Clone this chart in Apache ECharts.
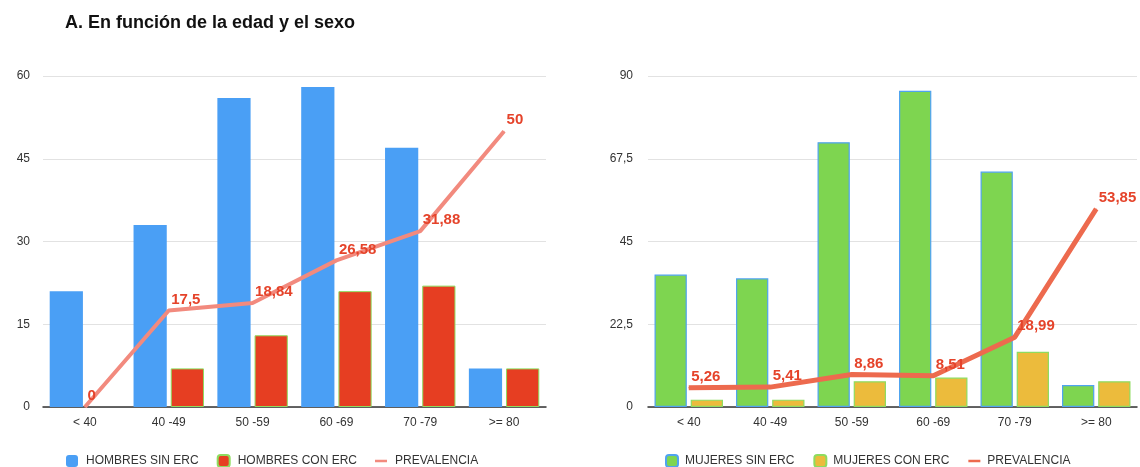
<!DOCTYPE html>
<html>
<head>
<meta charset="utf-8">
<script src="https://cdn.jsdelivr.net/npm/echarts@6/dist/echarts.min.js"></script>
<style>
  html, body { margin: 0; padding: 0; background: #fff; }
  #chart { width: 1140px; height: 467px; }
</style>
</head>
<body>
<div id="chart"></div>
<script>
// 数据
const categories = ['< 40', '40 -49', '50 -59', '60 -69', '70 -79', '>= 80'];
const hombresSinErc = [21, 33, 56, 58, 47, 7];
const hombresConErc = [0, 7, 13, 21, 22, 7];
const prevalenciaHombres = [0, 17.5, 18.84, 26.58, 31.88, 50];
const mujeresSinErc = [36, 35, 72, 86, 64, 6];
const mujeresConErc = [2, 2, 7, 8, 15, 7];
const prevalenciaMujeres = [5.26, 5.41, 8.86, 8.51, 18.99, 53.85];

const chart = echarts.init(document.getElementById('chart'));

const FONT = 'Liberation Sans, Arial, sans-serif';
const comma = v => String(v).replace('.', ',');
// 值为 0 的柱子不画（否则边框会在轴上留一条线）
const hideZero = arr => arr.map(v => (v === 0 ? '-' : v));
// 图例里的短线
const LINE_ICON = 'path://M0,0h12v2.5h-12z';

// 通用配置
const axisLabelStyle = { color: '#333', fontSize: 12, fontFamily: FONT };
const xAxisCommon = {
    type: 'category',
    data: categories,
    axisTick: { show: false },
    axisLine: { lineStyle: { color: '#333', width: 1.5 } },
    axisLabel: Object.assign({ margin: 10 }, axisLabelStyle)
};
const splitLine = { lineStyle: { color: '#e2e2e2', width: 1 } };

const lineLabel = {
    show: true,
    position: 'right',
    distance: 2,
    offset: [0, -11],
    color: '#e5432a',
    fontSize: 15,
    fontWeight: 'bold',
    fontFamily: FONT,
    formatter: p => comma(p.value)
};

const legendText = { color: '#333', fontSize: 12, fontFamily: FONT, padding: [0, 0, 0, 3] };

const option = {
    animation: false,
    title: {
        text: 'A. En función de la edad y el sexo',
        left: 60,
        top: 9,
        textStyle: { fontSize: 18, fontWeight: 'bold', color: '#111', fontFamily: FONT }
    },
    legend: [
        {
            left: 61, top: 449,
            itemWidth: 12, itemHeight: 12, itemGap: 18,
            textStyle: legendText,
            data: [
                'HOMBRES SIN ERC',
                'HOMBRES CON ERC',
                { name: 'PREVALENCIA', icon: LINE_ICON, itemStyle: { color: '#f28a7e', borderWidth: 0 } }
            ]
        },
        {
            left: 660, top: 449,
            itemWidth: 12, itemHeight: 12, itemGap: 19,
            textStyle: Object.assign({}, legendText, { padding: [0, 0, 0, 2] }),
            data: [
                'MUJERES SIN ERC',
                'MUJERES CON ERC',
                { name: 'PREVALENCIA', icon: LINE_ICON, itemStyle: { color: '#ed6a4e', borderWidth: 0 } }
            ]
        }
    ],
    grid: [
        { left: 43, right: 594, top: 76, bottom: 60 },
        { left: 648, right: 3, top: 76, bottom: 60 }
    ],
    xAxis: [
        Object.assign({ gridIndex: 0 }, xAxisCommon),
        Object.assign({ gridIndex: 1 }, xAxisCommon)
    ],
    yAxis: [
        {
            type: 'value', gridIndex: 0, min: 0, max: 60, interval: 15,
            axisLine: { show: false }, axisTick: { show: false },
            axisLabel: Object.assign({ margin: 13 }, axisLabelStyle),
            splitLine: splitLine
        },
        {
            type: 'value', gridIndex: 1, min: 0, max: 90, interval: 22.5,
            axisLine: { show: false }, axisTick: { show: false },
            axisLabel: Object.assign({ margin: 15, formatter: v => comma(v) }, axisLabelStyle),
            splitLine: splitLine
        }
    ],
    series: [
        {
            name: 'HOMBRES SIN ERC', type: 'bar', xAxisIndex: 0, yAxisIndex: 0,
            data: hideZero(hombresSinErc),
            barCategoryGap: '16%', barGap: '12%',
            itemStyle: { color: '#4a9ff5' }
        },
        {
            name: 'HOMBRES CON ERC', type: 'bar', xAxisIndex: 0, yAxisIndex: 0,
            data: hideZero(hombresConErc),
            barCategoryGap: '16%', barGap: '12%',
            itemStyle: { color: '#e63e22', borderColor: '#8edc5f', borderWidth: 1 }
        },
        {
            name: 'PREVALENCIA', type: 'line', xAxisIndex: 0, yAxisIndex: 0,
            data: prevalenciaHombres,
            symbol: 'circle', symbolSize: 1,
            itemStyle: { color: '#f28a7e' },
            lineStyle: { color: '#f28a7e', width: 4 },
            label: lineLabel,
            z: 5
        },
        {
            name: 'MUJERES SIN ERC', type: 'bar', xAxisIndex: 1, yAxisIndex: 1,
            data: mujeresSinErc,
            barCategoryGap: '16%', barGap: '12%',
            itemStyle: { color: '#7ed550', borderColor: '#4fa3f0', borderWidth: 1.2 }
        },
        {
            name: 'MUJERES CON ERC', type: 'bar', xAxisIndex: 1, yAxisIndex: 1,
            data: mujeresConErc,
            barCategoryGap: '16%', barGap: '12%',
            itemStyle: { color: '#ecbb3c', borderColor: '#8edc5f', borderWidth: 1.2 }
        },
        {
            name: 'PREVALENCIA', type: 'line', xAxisIndex: 1, yAxisIndex: 1,
            data: prevalenciaMujeres,
            symbol: 'circle', symbolSize: 1,
            itemStyle: { color: '#ed6a4e' },
            lineStyle: { color: '#ed6a4e', width: 5 },
            label: lineLabel,
            z: 5
        }
    ]
};

chart.setOption(option);
</script>
</body>
</html>
